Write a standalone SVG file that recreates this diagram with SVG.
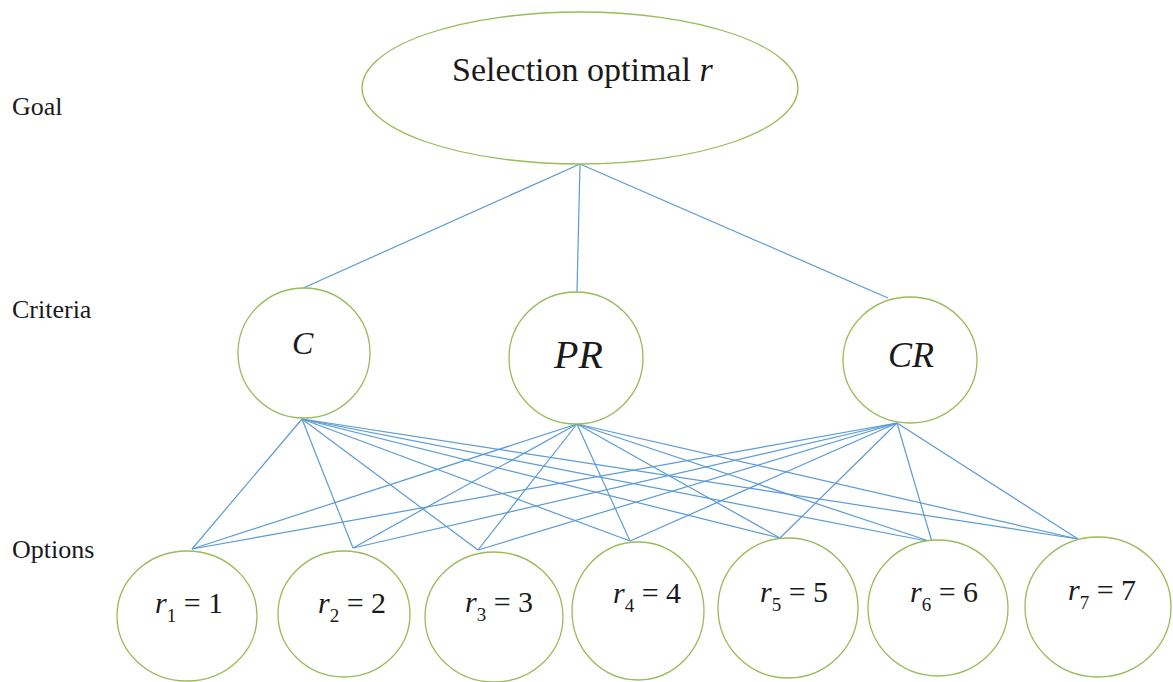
<svg xmlns="http://www.w3.org/2000/svg" width="1173" height="682" viewBox="0 0 1173 682">
  <style>
    .node { fill: #ffffff; stroke: #9bbb59; stroke-width: 1.3; }
    .edge { stroke: #5b9bd5; stroke-width: 1.2; fill: none; }
    .label { font-family: "Liberation Serif", "Times New Roman", serif; fill: #1a1a1a; }
    .it { font-style: italic; }
  </style>
  <rect width="1173" height="682" fill="#ffffff"/>

  <!-- level labels -->
  <g id="level-labels" class="label" font-size="26">
    <text x="12" y="115">Goal</text>
    <text x="12" y="318">Criteria</text>
    <text x="12" y="558">Options</text>
  </g>

  <!-- connectors -->
  <g id="connectors" class="edge">
    <!-- goal to criteria -->
    <line x1="580" y1="164" x2="301" y2="289"/>
    <line x1="580" y1="164" x2="577" y2="292"/>
    <line x1="580" y1="164" x2="888" y2="298"/>
    <!-- C to options -->
    <line x1="302" y1="419" x2="192" y2="549"/>
    <line x1="302" y1="419" x2="353" y2="548"/>
    <line x1="302" y1="419" x2="478" y2="550"/>
    <line x1="302" y1="419" x2="630" y2="541"/>
    <line x1="302" y1="419" x2="780" y2="538"/>
    <line x1="302" y1="419" x2="932" y2="542"/>
    <line x1="302" y1="419" x2="1078" y2="539"/>
    <!-- PR to options -->
    <line x1="577" y1="424" x2="192" y2="549"/>
    <line x1="577" y1="424" x2="353" y2="548"/>
    <line x1="577" y1="424" x2="478" y2="550"/>
    <line x1="577" y1="424" x2="630" y2="541"/>
    <line x1="577" y1="424" x2="780" y2="538"/>
    <line x1="577" y1="424" x2="932" y2="542"/>
    <line x1="577" y1="424" x2="1078" y2="539"/>
    <!-- CR to options -->
    <line x1="897" y1="423" x2="192" y2="549"/>
    <line x1="897" y1="423" x2="353" y2="548"/>
    <line x1="897" y1="423" x2="478" y2="550"/>
    <line x1="897" y1="423" x2="630" y2="541"/>
    <line x1="897" y1="423" x2="780" y2="538"/>
    <line x1="897" y1="423" x2="932" y2="542"/>
    <line x1="897" y1="423" x2="1078" y2="539"/>
  </g>

  <!-- goal -->
  <g id="goal">
    <ellipse class="node" cx="580" cy="88" rx="218" ry="76"/>
    <text class="label" x="452" y="81" font-size="34">Selection optimal <tspan class="it">r</tspan></text>
  </g>

  <!-- criteria -->
  <g id="criterion-C">
    <ellipse class="node" cx="304" cy="353" rx="66" ry="65"/>
    <text class="label it" x="292" y="354" font-size="32">C</text>
  </g>
  <g id="criterion-PR">
    <ellipse class="node" cx="576" cy="358" rx="67" ry="66"/>
    <text class="label it" x="554" y="368" font-size="40">PR</text>
  </g>
  <g id="criterion-CR">
    <ellipse class="node" cx="910" cy="360" rx="67" ry="63"/>
    <text class="label it" x="888" y="367" font-size="36">CR</text>
  </g>

  <!-- options -->
  <g id="option-1">
    <ellipse class="node" cx="187" cy="616" rx="70" ry="65"/>
    <text class="label" x="155" y="613" font-size="30"><tspan class="it">r</tspan><tspan font-size="19" dy="9">1</tspan><tspan dy="-9"> = 1</tspan></text>
  </g>
  <g id="option-2">
    <ellipse class="node" cx="344" cy="614" rx="66" ry="63"/>
    <text class="label" x="318" y="613" font-size="30"><tspan class="it">r</tspan><tspan font-size="19" dy="9">2</tspan><tspan dy="-9"> = 2</tspan></text>
  </g>
  <g id="option-3">
    <ellipse class="node" cx="494" cy="617" rx="69" ry="65"/>
    <text class="label" x="465" y="612" font-size="30"><tspan class="it">r</tspan><tspan font-size="19" dy="9">3</tspan><tspan dy="-9"> = 3</tspan></text>
  </g>
  <g id="option-4">
    <ellipse class="node" cx="638" cy="611" rx="66" ry="69"/>
    <text class="label" x="613" y="603" font-size="30"><tspan class="it">r</tspan><tspan font-size="19" dy="9">4</tspan><tspan dy="-9"> = 4</tspan></text>
  </g>
  <g id="option-5">
    <ellipse class="node" cx="788" cy="608" rx="70" ry="70"/>
    <text class="label" x="760" y="602" font-size="30"><tspan class="it">r</tspan><tspan font-size="19" dy="9">5</tspan><tspan dy="-9"> = 5</tspan></text>
  </g>
  <g id="option-6">
    <ellipse class="node" cx="938" cy="608" rx="70" ry="68"/>
    <text class="label" x="910" y="602" font-size="30"><tspan class="it">r</tspan><tspan font-size="19" dy="9">6</tspan><tspan dy="-9"> = 6</tspan></text>
  </g>
  <g id="option-7">
    <ellipse class="node" cx="1098" cy="607" rx="73" ry="70"/>
    <text class="label" x="1068" y="600" font-size="30"><tspan class="it">r</tspan><tspan font-size="19" dy="9">7</tspan><tspan dy="-9"> = 7</tspan></text>
  </g>
</svg>
